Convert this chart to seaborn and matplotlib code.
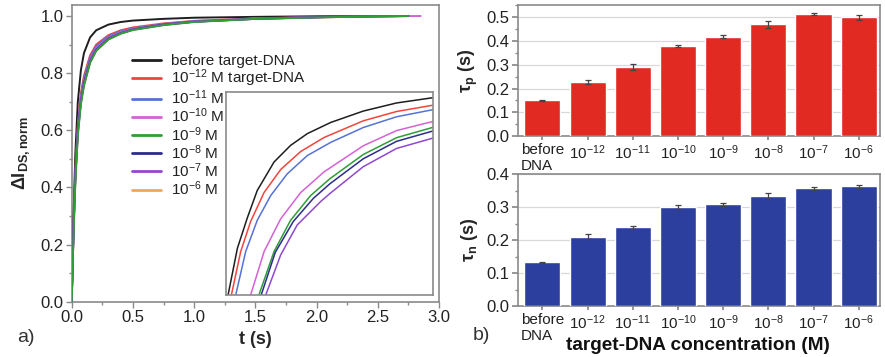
import numpy as np
import pandas as pd
import matplotlib
matplotlib.use("Agg")
import matplotlib.pyplot as plt
import seaborn as sns

sns.set_theme(style="white")
plt.rcParams['font.family'] = ['Liberation Sans', 'DejaVu Sans']
plt.rcParams['mathtext.fontset'] = 'custom'
plt.rcParams['mathtext.rm'] = 'Liberation Sans'
plt.rcParams['mathtext.it'] = 'Liberation Sans:italic'
plt.rcParams['mathtext.bf'] = 'Liberation Sans:bold'

# ---------------- data: panel a) main curves ----------------
t_main = [0.0, 0.01, 0.02, 0.03, 0.05, 0.075, 0.1, 0.15, 0.2, 0.3, 0.4, 0.5, 0.75, 1.0, 1.5, 2.0, 2.5, 2.75]
t_magenta = [0.0, 0.01, 0.02, 0.03, 0.05, 0.075, 0.1, 0.15, 0.2, 0.3, 0.4, 0.5, 0.75, 1.0, 1.5, 2.0, 2.5, 2.85]
y_before = [0.0, 0.20, 0.38, 0.52, 0.70, 0.81, 0.87, 0.925, 0.950, 0.970, 0.979, 0.984, 0.990, 0.994, 0.997, 0.999, 1.0, 1.0]
y_m12 = [0.0, 0.18, 0.34, 0.46, 0.62, 0.73, 0.79, 0.862, 0.900, 0.933, 0.950, 0.960, 0.974, 0.983, 0.992, 0.996, 0.999, 1.0]
y_m11 = [0.0, 0.18, 0.33, 0.45, 0.61, 0.72, 0.78, 0.855, 0.894, 0.929, 0.946, 0.957, 0.972, 0.982, 0.991, 0.996, 0.999, 1.0]
y_m10 = [0.0, 0.17, 0.32, 0.44, 0.60, 0.71, 0.77, 0.847, 0.887, 0.924, 0.943, 0.955, 0.971, 0.981, 0.991, 0.996, 0.999, 1.0]
y_m9 = [0.0, 0.16, 0.30, 0.42, 0.58, 0.69, 0.755, 0.836, 0.878, 0.918, 0.938, 0.951, 0.968, 0.979, 0.990, 0.995, 0.999, 1.0]
y_m8 = [0.0, 0.17, 0.32, 0.44, 0.60, 0.70, 0.765, 0.842, 0.882, 0.921, 0.940, 0.953, 0.970, 0.980, 0.990, 0.996, 0.999, 1.0]
y_m7 = [0.0, 0.17, 0.31, 0.43, 0.59, 0.70, 0.76, 0.839, 0.880, 0.919, 0.939, 0.952, 0.969, 0.980, 0.990, 0.995, 0.999, 1.0]
y_m6 = [0.0, 0.17, 0.31, 0.43, 0.59, 0.70, 0.76, 0.838, 0.879, 0.918, 0.939, 0.952, 0.969, 0.980, 0.990, 0.995, 0.999, 1.0]

legend_labels = ['before target-DNA', '10$^{\\mathregular{-12}}$ M target-DNA', '10$^{\\mathregular{-11}}$ M',
                 '10$^{\\mathregular{-10}}$ M', '10$^{\\mathregular{-9}}$ M', '10$^{\\mathregular{-8}}$ M',
                 '10$^{\\mathregular{-7}}$ M', '10$^{\\mathregular{-6}}$ M']
line_colors = ['#1e1e1e', '#f0453f', '#5572d4', '#d462d4', '#2e9e36', '#2c2c8c', '#9048d0', '#f4a65a']

# ---------------- data: panel a) inset curves (inset units 0..1) ----------------
in_before_x = [0.01, 0.055, 0.103, 0.151, 0.232, 0.312, 0.393, 0.506, 0.663, 0.824, 1.0]
in_before_y = [0.0, 0.23, 0.38, 0.515, 0.655, 0.737, 0.795, 0.850, 0.906, 0.946, 0.972]
in_m12_x = [0.026, 0.071, 0.119, 0.184, 0.264, 0.361, 0.474, 0.663, 0.824, 1.0]
in_m12_y = [0.0, 0.214, 0.362, 0.505, 0.618, 0.707, 0.776, 0.858, 0.904, 0.935]
in_m11_x = [0.047, 0.095, 0.151, 0.216, 0.296, 0.393, 0.506, 0.663, 0.824, 1.0]
in_m11_y = [0.0, 0.214, 0.368, 0.49, 0.597, 0.687, 0.752, 0.825, 0.878, 0.913]
in_m10_x = [0.119, 0.184, 0.264, 0.361, 0.474, 0.663, 0.824, 1.0]
in_m10_y = [0.0, 0.214, 0.375, 0.505, 0.607, 0.735, 0.810, 0.855]
in_m9_x = [0.159, 0.232, 0.312, 0.409, 0.502, 0.663, 0.824, 1.0]
in_m9_y = [0.0, 0.214, 0.368, 0.49, 0.573, 0.692, 0.775, 0.826]
in_m8_x = [0.17, 0.238, 0.325, 0.422, 0.502, 0.663, 0.824, 1.0]
in_m8_y = [0.0, 0.21, 0.362, 0.476, 0.548, 0.671, 0.757, 0.808]
in_m7_x = [0.192, 0.264, 0.344, 0.457, 0.502, 0.663, 0.824, 1.0]
in_m7_y = [0.0, 0.197, 0.345, 0.46, 0.5, 0.632, 0.722, 0.773]

# ---------------- data: panel b) bars ----------------
categories = ['before\nDNA', '10$^{\\mathregular{-12}}$', '10$^{\\mathregular{-11}}$', '10$^{\\mathregular{-10}}$',
              '10$^{\\mathregular{-9}}$', '10$^{\\mathregular{-8}}$', '10$^{\\mathregular{-7}}$', '10$^{\\mathregular{-6}}$']
tau_p = [0.150, 0.228, 0.290, 0.378, 0.418, 0.470, 0.513, 0.500]
tau_p_err = [0.002, 0.009, 0.013, 0.005, 0.006, 0.015, 0.005, 0.010]
tau_n = [0.132, 0.210, 0.238, 0.300, 0.308, 0.332, 0.357, 0.363]
tau_n_err = [0.002, 0.007, 0.004, 0.007, 0.005, 0.009, 0.004, 0.005]

W, H = 885, 357
fig = plt.figure(figsize=(W / 100, H / 100), dpi=100)

def box(x0, y0, x1, y1):
    return [x0 / W, 1 - y1 / H, (x1 - x0) / W, (y1 - y0) / H]

spine_col = '#8a8a8a'
tick_fs = 12

# ---------------- panel a) ----------------
ax = fig.add_axes(box(71.7, 5, 439, 301.7))
series = [(t_main, y_before), (t_main, y_m12), (t_main, y_m11), (t_magenta, y_m10),
          (t_main, y_m9), (t_main, y_m8), (t_main, y_m7), (t_main, y_m6)]
zorders = [3, 4, 4, 5, 7, 5, 5, 2]
for (tt, yy), lab, col, z in zip(series, legend_labels, line_colors, zorders):
    sns.lineplot(x=tt, y=yy, color=col, lw=1.4, ax=ax, label=lab)
    ax.lines[-1].set_zorder(z)
ax.set_xlim(0, 3.0)
ax.set_ylim(0, 1.0385)
ax.set_xticks(np.arange(0, 3.01, 0.5))
ax.set_xticklabels([f'{v:.1f}' for v in np.arange(0, 3.01, 0.5)])
ax.set_xticks(np.arange(0.25, 3.0, 0.5), minor=True)
ax.set_yticks(np.arange(0, 1.01, 0.2))
ax.set_yticklabels([f'{v:.1f}' for v in np.arange(0, 1.01, 0.2)])
ax.set_yticks(np.arange(0.1, 1.0, 0.2), minor=True)
ax.tick_params(which='both', direction='out', color=spine_col, labelsize=tick_fs, pad=2, labelcolor='#222222')
ax.tick_params(which='major', length=4, width=1, bottom=True, left=True)
ax.tick_params(which='minor', length=2.5, width=1, bottom=True, left=True)
for s in ax.spines.values():
    s.set_color(spine_col)
    s.set_linewidth(1.2)
ax.set_xlabel('t (s)', fontsize=13, fontweight='bold', labelpad=4)
ax.set_ylabel('ΔI$_{\\mathbf{DS,norm}}$', fontsize=13, fontweight='bold', labelpad=6)
leg = ax.legend(loc='upper left', bbox_to_anchor=(0.163, 0.835), frameon=False, fontsize=11,
                handlelength=1.95, handletextpad=0.65, labelspacing=-0.03, borderpad=0, borderaxespad=0)
for h in leg.get_lines():
    h.set_linewidth(2)
for txt in leg.get_texts():
    txt.set_color('#222222')

# inset
axi = fig.add_axes(box(226, 92, 433, 295))
inset = [(in_before_x, in_before_y, 0), (in_m12_x, in_m12_y, 1), (in_m11_x, in_m11_y, 2),
         (in_m10_x, in_m10_y, 3), (in_m9_x, in_m9_y, 4), (in_m8_x, in_m8_y, 5), (in_m7_x, in_m7_y, 6)]
for xx, yy, i in inset:
    sns.lineplot(x=xx, y=yy, color=line_colors[i], lw=1.1, ax=axi)
axi.set_xlim(0, 1)
axi.set_ylim(0, 1)
axi.set_xticks([])
axi.set_yticks([])
for s in axi.spines.values():
    s.set_color(spine_col)
    s.set_linewidth(1.2)
axi.set_facecolor('white')

fig.text(17 / W, 1 - 337 / H, 'a)', fontsize=14, color='#333333', va='center')
fig.text(473 / W, 1 - 336 / H, 'b)', fontsize=14, color='#333333', va='center')

# ---------------- panel b) ----------------
def bar_panel(rect, vals, errs, color, ylim, yticks, ylabel):
    axb = fig.add_axes(rect)
    df = pd.DataFrame({'cat': categories, 'val': vals})
    sns.barplot(data=df, x='cat', y='val', color=color, width=0.8, ax=axb, saturation=1, zorder=3)
    axb.errorbar(np.arange(len(vals)), vals, yerr=errs, fmt='none', ecolor='#444444',
                 elinewidth=0.9, capsize=2, capthick=0.9, zorder=4)
    axb.set_xlim(-0.54, 7.47)
    axb.set_ylim(*ylim)
    axb.set_yticks(yticks)
    axb.set_yticklabels([f'{v:.1f}' for v in yticks])
    axb.set_yticks(np.arange(0.05, ylim[1], 0.1), minor=True)
    axb.yaxis.grid(True, which='major', color='#d8d8d8', lw=0.9, zorder=0)
    axb.set_axisbelow(True)
    axb.tick_params(axis='y', which='both', direction='out', left=True, color=spine_col,
                    labelsize=tick_fs, pad=2, labelcolor='#222222')
    axb.tick_params(axis='y', which='major', length=4)
    axb.tick_params(axis='y', which='minor', length=2.5)
    axb.tick_params(axis='x', direction='out', bottom=True, color=spine_col, length=3,
                    labelsize=11, pad=2, labelcolor='#222222')
    for lab in axb.get_xticklabels():
        lab.set_multialignment('left')
    for s in axb.spines.values():
        s.set_color(spine_col)
        s.set_linewidth(1.2)
    axb.set_ylabel(ylabel, fontsize=13, fontweight='bold', labelpad=5)
    axb.set_xlabel('')
    return axb

axp = bar_panel(box(518, 5, 880, 136), tau_p, tau_p_err, '#e02a22', (0, 0.552),
                [0.0, 0.1, 0.2, 0.3, 0.4, 0.5], 'τ$_{\\mathbf{p}}$ (s)')
axn = bar_panel(box(518, 174, 880, 306), tau_n, tau_n_err, '#2c3f9e', (0, 0.4),
                [0.0, 0.1, 0.2, 0.3, 0.4], 'τ$_{\\mathbf{n}}$ (s)')
fig.text(698 / W, 1 - 345 / H, 'target-DNA concentration (M)', fontsize=13.7, fontweight='bold',
         ha='center', va='center', color='#111111')

fig.savefig('out.png', dpi=100, facecolor='white')
